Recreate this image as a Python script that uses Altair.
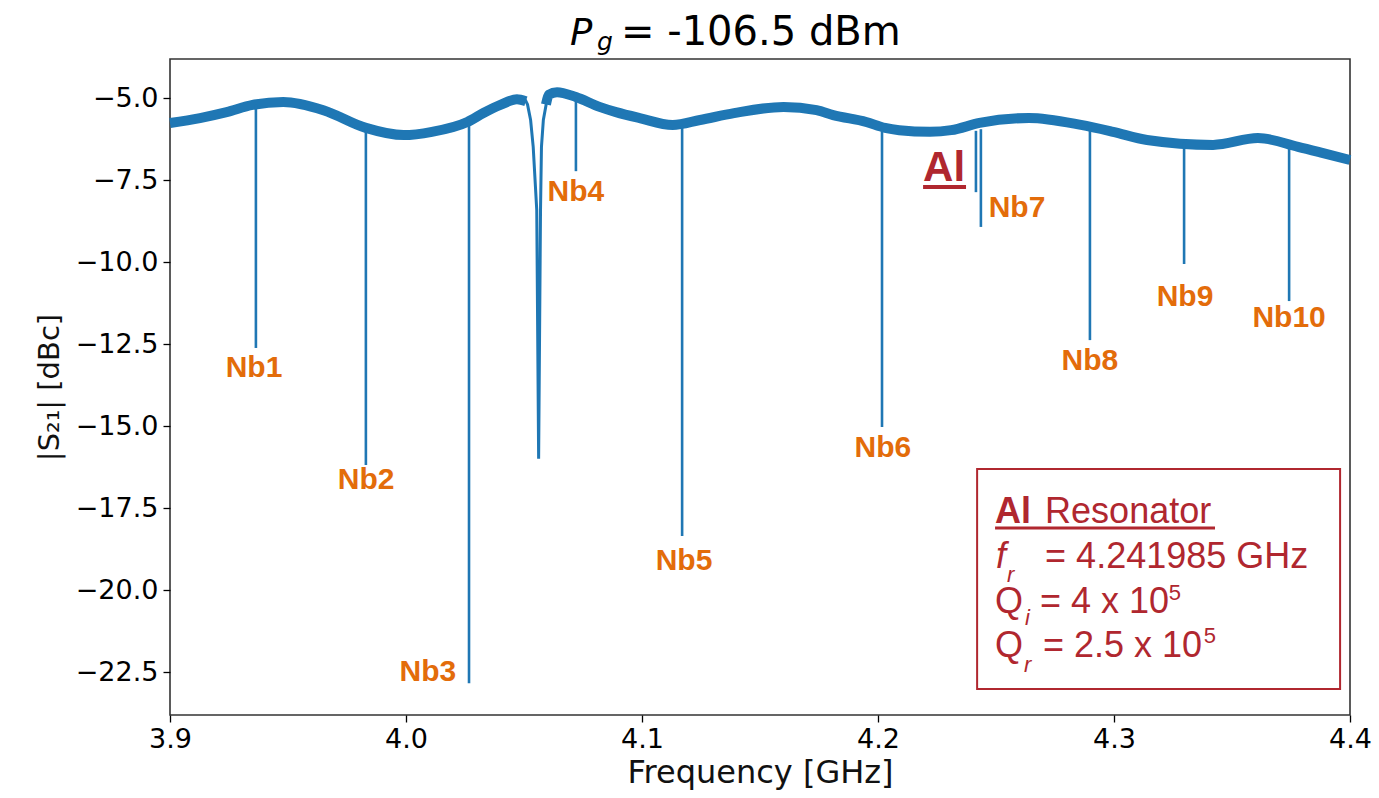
import altair as alt
import pandas as pd

# ---------------- data ----------------
# centre of the noisy transmission trace (GHz, dBc), left and right of the broad dip
band_left_f = [3.900, 3.9127, 3.924, 3.935, 3.948, 3.965, 3.983, 3.999, 4.011, 4.026, 4.033, 4.040, 4.047, 4.0508]
band_left_v = [-5.76, -5.61, -5.43, -5.21, -5.12, -5.37, -5.91, -6.13, -6.03, -5.73, -5.45, -5.21, -5.04, -5.10]
band_right_f = [4.0593, 4.0605, 4.064, 4.072, 4.082, 4.089, 4.099, 4.113, 4.1246, 4.139, 4.160, 4.174, 4.181, 4.195,
                4.203, 4.209, 4.222, 4.231, 4.243, 4.264, 4.286, 4.2996, 4.314, 4.342, 4.361, 4.378, 4.3886, 4.400]
band_right_v = [-5.2, -4.9, -4.82, -4.97, -5.27, -5.43, -5.61, -5.82, -5.67, -5.46, -5.27, -5.37, -5.52, -5.73,
                -5.91, -5.98, -6.03, -5.98, -5.76, -5.61, -5.82, -6.03, -6.28, -6.43, -6.22, -6.49, -6.68, -6.89]

# broad resonance dip near 4.056 GHz
dip_f = [4.0505, 4.0515, 4.0528, 4.0539, 4.0554, 4.0562, 4.0570, 4.0574, 4.0582, 4.0595]
dip_v = [-5.05, -5.20, -5.67, -6.49, -8.41, -16.0, -8.41, -6.49, -5.67, -5.15]

# narrow resonances (Nb1..Nb6, Al, Nb7..Nb10)
res_f = [3.9364, 3.9830, 4.0267, 4.0720, 4.1170, 4.2017, 4.2415, 4.2436, 4.2898, 4.3297, 4.3742]
res_top = [-5.21, -5.91, -5.73, -4.97, -5.82, -5.91, -6.00, -5.95, -5.82, -6.35, -6.45]
res_bottom = [-12.62, -16.19, -22.84, -7.23, -18.35, -15.03, -7.87, -8.93, -12.38, -10.06, -11.19]

# Nb labels
nb_names = ["Nb1", "Nb2", "Nb3", "Nb4", "Nb5", "Nb6", "Nb7", "Nb8", "Nb9", "Nb10"]
nb_label_f = [3.9356, 3.9831, 4.0093, 4.0720, 4.1178, 4.2021, 4.2589, 4.2898, 4.3301, 4.3742]
nb_label_v = [-13.23, -16.65, -22.50, -7.87, -19.12, -15.67, -8.35, -13.02, -11.07, -11.71]

# Al label + underline
al_label_f = [4.2280]
al_label_v = [-7.13]
al_ul_f = [4.2191]
al_ul_f2 = [4.2373]
al_ul_v = [-7.71]

# info box
box_f = [4.2420]
box_f2 = [4.3958]
box_v = [-16.31]
box_v2 = [-23.02]

box_main_text = ["Resonator", "= 4.241985 GHz", "= 4 x 10", "= 2.5 x 10"]
box_main_f = [4.2708, 4.2708, 4.2686, 4.2699]
box_main_v = [-17.96, -19.33, -20.70, -22.04]
box_q_text = ["Q", "Q"]
box_q_f = [4.2496, 4.2496]
box_q_v = [-20.70, -22.04]
box_bold_text = ["Al"]
box_bold_f = [4.2496]
box_bold_v = [-17.96]
box_ital_text = ["f"]
box_ital_f = [4.2500]
box_ital_v = [-19.33]
box_sub_text = ["r", "i", "r"]
box_sub_f = [4.2547, 4.2623, 4.2619]
box_sub_v = [-19.76, -21.07, -22.50]
box_sup_text = ["5", "5"]
box_sup_f = [4.3232, 4.3380]
box_sup_v = [-20.31, -21.62]
box_ul_f = [4.2496]
box_ul_f2 = [4.3428]
box_ul_v = [-18.11]

x_ticks = [3.9, 4.0, 4.1, 4.2, 4.3, 4.4]
y_ticks = [-22.5, -20.0, -17.5, -15.0, -12.5, -10.0, -7.5, -5.0]

# ---------------- styling ----------------
BLUE = "#1f77b4"
ORANGE = "#E36C0A"
RED = "#B0272F"
MPL_FONT = "DejaVu Sans"
ANN_FONT = "Liberation Sans"

xaxis = alt.Axis(values=x_ticks, format=".1f", title="Frequency [GHz]", grid=False, domain=False,
                 labelFont=MPL_FONT, labelFontSize=27, labelColor="black", labelFlush=False,
                 tickColor="black", tickSize=7, tickWidth=1.3, labelPadding=4,
                 titleFont=MPL_FONT, titleFontSize=32, titleFontWeight="normal", titleColor="#111",
                 titlePadding=5)
yaxis = alt.Axis(values=y_ticks, format=".1f", title="|S₂₁| [dBc]", grid=False, domain=False,
                 labelFont=MPL_FONT, labelFontSize=27, labelColor="black", labelFlush=False,
                 tickColor="black", tickSize=7, tickWidth=1.3, labelPadding=5,
                 titleFont=MPL_FONT, titleFontSize=29, titleFontWeight="normal", titleColor="#111",
                 titlePadding=11)

xs = alt.Scale(domain=[3.9, 4.4], nice=False, zero=False)
ys = alt.Scale(domain=[-23.81, -3.81], nice=False, zero=False)
X = alt.X("f:Q", scale=xs, axis=xaxis)
Y = alt.Y("v:Q", scale=ys, axis=yaxis)

# ---------------- tables ----------------
band_df = pd.DataFrame({
    "f": band_left_f + band_right_f,
    "v": band_left_v + band_right_v,
    "seg": ["a"] * len(band_left_f) + ["b"] * len(band_right_f),
})
dip_df = pd.DataFrame({"f": dip_f, "v": dip_v})
res_df = pd.DataFrame({"f": res_f, "v": res_top, "v2": res_bottom})
nb_df = pd.DataFrame({"f": nb_label_f, "v": nb_label_v, "t": nb_names})
al_df = pd.DataFrame({"f": al_label_f, "v": al_label_v, "t": ["Al"]})
ul_df = pd.DataFrame({"f": al_ul_f + box_ul_f, "f2": al_ul_f2 + box_ul_f2, "v": al_ul_v + box_ul_v,
                      "w": [4, 3]})
box_df = pd.DataFrame({"f": box_f, "f2": box_f2, "v": box_v, "v2": box_v2})


def tdf(t, f, v):
    return pd.DataFrame({"t": t, "f": f, "v": v})


def text_layer(df, **kw):
    return alt.Chart(df).mark_text(align="left", baseline="alphabetic", color=RED, font=ANN_FONT, **kw).encode(
        x=X, y=Y, text="t:N")


band = alt.Chart(band_df).mark_line(color=BLUE, strokeWidth=10, interpolate="monotone", strokeCap="butt").encode(
    x=X, y=Y, detail="seg:N")
dip = alt.Chart(dip_df).mark_line(color=BLUE, strokeWidth=3).encode(x=X, y=Y)
rules = alt.Chart(res_df).mark_rule(color=BLUE, strokeWidth=2.6).encode(x=X, y=Y, y2="v2:Q")

nb_text = alt.Chart(nb_df).mark_text(color=ORANGE, font=ANN_FONT, fontWeight="bold", fontSize=30,
                                     align="center", baseline="middle").encode(x=X, y=Y, text="t:N")
al_text = alt.Chart(al_df).mark_text(color=RED, font=ANN_FONT, fontWeight="bold", fontSize=42,
                                     align="center", baseline="middle").encode(x=X, y=Y, text="t:N")
underlines = alt.Chart(ul_df).mark_rule(color=RED).encode(x=X, x2="f2:Q", y=Y,
                                                          strokeWidth=alt.StrokeWidth("w:Q", scale=None))
box = alt.Chart(box_df).mark_rect(fill="white", stroke=RED, strokeWidth=2).encode(x=X, x2="f2:Q", y=Y, y2="v2:Q")

box_main = text_layer(tdf(box_main_text, box_main_f, box_main_v), fontSize=36)
box_q = text_layer(tdf(box_q_text, box_q_f, box_q_v), fontSize=36)
box_bold = text_layer(tdf(box_bold_text, box_bold_f, box_bold_v), fontSize=36, fontWeight="bold")
box_ital = text_layer(tdf(box_ital_text, box_ital_f, box_ital_v), fontSize=36, fontStyle="italic")
box_sub = text_layer(tdf(box_sub_text, box_sub_f, box_sub_v), fontSize=22, fontStyle="italic")
box_sup = text_layer(tdf(box_sup_text, box_sup_f, box_sup_v), fontSize=22)

# title P_g = -106.5 dBm (pieces placed above the plot area)
title_p = alt.Chart(pd.DataFrame({"t": ["P"]})).mark_text(
    align="left", baseline="alphabetic", font=MPL_FONT, fontStyle="italic", fontSize=37, color="black").encode(
    x=alt.value(400), y=alt.value(-14), text="t:N")
title_g = alt.Chart(pd.DataFrame({"t": ["g"]})).mark_text(
    align="left", baseline="alphabetic", font=MPL_FONT, fontStyle="italic", fontSize=25, color="black").encode(
    x=alt.value(427), y=alt.value(-9), text="t:N")
title_rest = alt.Chart(pd.DataFrame({"t": ["= -106.5 dBm"]})).mark_text(
    align="left", baseline="alphabetic", font=MPL_FONT, fontSize=40, color="black").encode(
    x=alt.value(451), y=alt.value(-14), text="t:N")

chart = alt.layer(
    band, dip, rules, nb_text, al_text, box, underlines,
    box_main, box_q, box_bold, box_ital, box_sub, box_sup,
    title_p, title_g, title_rest,
).properties(
    width=1180, height=656,
    autosize=alt.AutoSizeParams(type="none"),
    padding={"left": 170, "top": 59, "right": 29, "bottom": 83},
    background="white",
).configure_view(stroke="#333", strokeWidth=1.6)

chart.save("out.html", embed_options={"renderer": "svg", "actions": False})
